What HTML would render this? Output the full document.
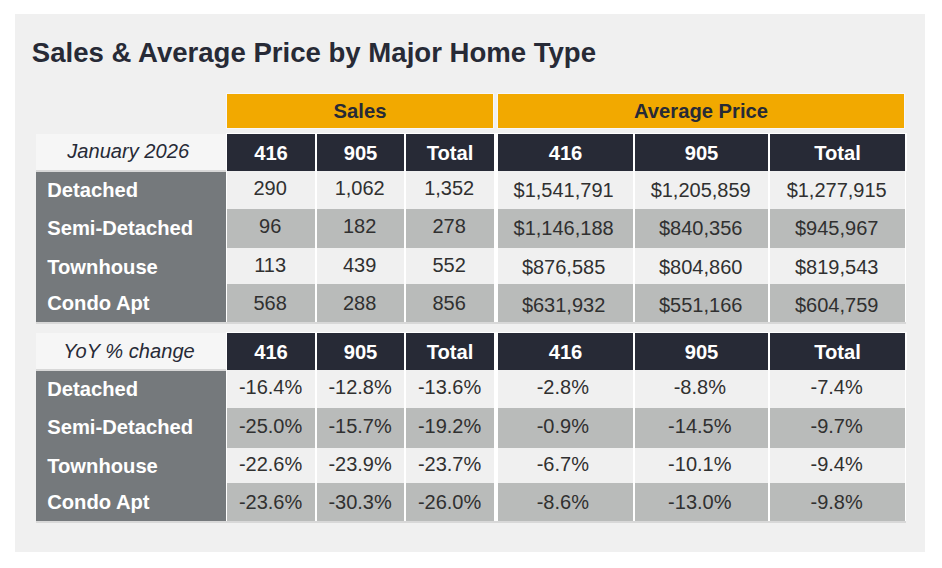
<!DOCTYPE html>
<html><head><meta charset="utf-8"><title>Sales &amp; Average Price by Major Home Type</title>
<style>
html,body{margin:0;padding:0;background:#fff;}
body{width:942px;height:568px;position:relative;overflow:hidden;font-family:"Liberation Sans",Arial,sans-serif;}
.panel{position:absolute;left:15px;top:14px;width:909.8px;height:537.6px;background:#f0f0f0;}
.title{position:absolute;left:31.8px;top:37.2px;font-size:27.57px;font-weight:bold;color:#272a36;white-space:nowrap;line-height:32px;}
.b{position:absolute;}
.t{position:absolute;width:200px;text-align:center;font-size:20px;line-height:24px;white-space:nowrap;}
.bk{background:#ffffff;}
.ln{background:#d8d8d8;}
.or{background:#f2a900;box-shadow:0 0 0 0.8px #f9f9fd;}
.dk{background:#272a36;box-shadow:0 -1px 0 0 #fff, 2px 0 0 0 #fff, 2px -1px 0 0 #fff;}
.hl{background:#f6f6f6;}
.lb{background:#75797c;}
.lgt{background:#f0f0f0;}
.alt{background:#b9bbba;}
.d{color:#303030;}
.hd{color:#fff;font-weight:bold;font-size:20.2px;}
.oh{color:#272a36;font-weight:bold;font-size:20.2px;}
.it{color:#272a36;font-style:italic;font-size:20.1px;}
.lt{color:#fff;font-weight:bold;font-size:20.2px;}
</style></head><body>
<div class="panel"></div>
<div class="title">Sales &amp; Average Price by Major Home Type</div>
<div class="b or" style="left:227px;top:94px;width:266px;height:33.7px"></div>
<div class="b or" style="left:498px;top:94px;width:406px;height:33.7px"></div>
<div class="t oh" style="left:260.00px;top:99.00px">Sales</div>
<div class="t oh" style="left:601.00px;top:99.00px">Average Price</div>
<div class="b bk" style="left:225.6px;top:133px;width:680.5px;height:188.8px"></div>
<div class="b ln" style="left:36px;top:321.8px;width:870px;height:1.8000000000000114px"></div>
<div class="b hl" style="left:36px;top:133.5px;width:189.5px;height:37.5px"></div>
<div class="b ln" style="left:36px;top:170.4px;width:189.5px;height:1.5999999999999943px"></div>
<div class="t it" style="left:28.20px;top:139.00px">January 2026</div>
<div class="b dk" style="left:227px;top:134px;width:88px;height:36.5px"></div>
<div class="t hd" style="left:171.00px;top:141.00px">416</div>
<div class="b dk" style="left:317px;top:134px;width:87px;height:36.5px"></div>
<div class="t hd" style="left:260.50px;top:141.00px">905</div>
<div class="b dk" style="left:406px;top:134px;width:88px;height:36.5px"></div>
<div class="t hd" style="left:350.00px;top:141.00px">Total</div>
<div class="b dk" style="left:498px;top:134px;width:135px;height:36.5px"></div>
<div class="t hd" style="left:465.50px;top:141.00px">416</div>
<div class="b dk" style="left:635px;top:134px;width:133px;height:36.5px"></div>
<div class="t hd" style="left:601.50px;top:141.00px">905</div>
<div class="b dk" style="left:770px;top:134px;width:135px;height:36.5px"></div>
<div class="t hd" style="left:737.50px;top:141.00px">Total</div>
<div class="b lb" style="left:36px;top:172px;width:189.5px;height:37px"></div>
<div class="t lt" style="left:47.20px;top:178.00px;width:auto;text-align:left">Detached</div>
<div class="b lgt" style="left:227px;top:171px;width:88px;height:38px"></div>
<div class="t d" style="left:170.20px;top:176.00px">290</div>
<div class="b lgt" style="left:317px;top:171px;width:87px;height:38px"></div>
<div class="t d" style="left:259.70px;top:176.00px">1,062</div>
<div class="b lgt" style="left:406px;top:171px;width:88px;height:38px"></div>
<div class="t d" style="left:349.20px;top:176.00px">1,352</div>
<div class="b lgt" style="left:498px;top:171px;width:135px;height:38px"></div>
<div class="t d" style="left:463.60px;top:178.00px">$1,541,791</div>
<div class="b lgt" style="left:635px;top:171px;width:133px;height:38px"></div>
<div class="t d" style="left:600.70px;top:178.00px">$1,205,859</div>
<div class="b lgt" style="left:770px;top:171px;width:135px;height:38px"></div>
<div class="t d" style="left:736.70px;top:178.00px">$1,277,915</div>
<div class="b lb" style="left:36px;top:209px;width:189.5px;height:39px"></div>
<div class="t lt" style="left:47.20px;top:216.00px;width:auto;text-align:left">Semi-Detached</div>
<div class="b alt" style="left:227px;top:209px;width:88px;height:39px"></div>
<div class="t d" style="left:170.20px;top:214.00px">96</div>
<div class="b alt" style="left:317px;top:209px;width:87px;height:39px"></div>
<div class="t d" style="left:259.70px;top:214.00px">182</div>
<div class="b alt" style="left:406px;top:209px;width:88px;height:39px"></div>
<div class="t d" style="left:349.20px;top:214.00px">278</div>
<div class="b alt" style="left:498px;top:209px;width:135px;height:39px"></div>
<div class="t d" style="left:463.60px;top:216.00px">$1,146,188</div>
<div class="b alt" style="left:635px;top:209px;width:133px;height:39px"></div>
<div class="t d" style="left:600.70px;top:216.00px">$840,356</div>
<div class="b alt" style="left:770px;top:209px;width:135px;height:39px"></div>
<div class="t d" style="left:736.70px;top:216.00px">$945,967</div>
<div class="b lb" style="left:36px;top:248px;width:189.5px;height:36px"></div>
<div class="t lt" style="left:47.20px;top:255.00px;width:auto;text-align:left">Townhouse</div>
<div class="b lgt" style="left:227px;top:248px;width:88px;height:36px"></div>
<div class="t d" style="left:170.20px;top:253.00px">113</div>
<div class="b lgt" style="left:317px;top:248px;width:87px;height:36px"></div>
<div class="t d" style="left:259.70px;top:253.00px">439</div>
<div class="b lgt" style="left:406px;top:248px;width:88px;height:36px"></div>
<div class="t d" style="left:349.20px;top:253.00px">552</div>
<div class="b lgt" style="left:498px;top:248px;width:135px;height:36px"></div>
<div class="t d" style="left:463.60px;top:254.50px">$876,585</div>
<div class="b lgt" style="left:635px;top:248px;width:133px;height:36px"></div>
<div class="t d" style="left:600.70px;top:254.50px">$804,860</div>
<div class="b lgt" style="left:770px;top:248px;width:135px;height:36px"></div>
<div class="t d" style="left:736.70px;top:254.50px">$819,543</div>
<div class="b lb" style="left:36px;top:284px;width:189.5px;height:37.5px"></div>
<div class="t lt" style="left:47.20px;top:291.00px;width:auto;text-align:left">Condo Apt</div>
<div class="b alt" style="left:227px;top:284px;width:88px;height:37.5px"></div>
<div class="t d" style="left:170.20px;top:291.00px">568</div>
<div class="b alt" style="left:317px;top:284px;width:87px;height:37.5px"></div>
<div class="t d" style="left:259.70px;top:291.00px">288</div>
<div class="b alt" style="left:406px;top:284px;width:88px;height:37.5px"></div>
<div class="t d" style="left:349.20px;top:291.00px">856</div>
<div class="b alt" style="left:498px;top:284px;width:135px;height:37.5px"></div>
<div class="t d" style="left:463.60px;top:293.00px">$631,932</div>
<div class="b alt" style="left:635px;top:284px;width:133px;height:37.5px"></div>
<div class="t d" style="left:600.70px;top:293.00px">$551,166</div>
<div class="b alt" style="left:770px;top:284px;width:135px;height:37.5px"></div>
<div class="t d" style="left:736.70px;top:293.00px">$604,759</div>
<div class="b bk" style="left:225.6px;top:332px;width:680.5px;height:188.79999999999995px"></div>
<div class="b ln" style="left:36px;top:520.8px;width:870px;height:1.8000000000000682px"></div>
<div class="b hl" style="left:36px;top:332.5px;width:189.5px;height:37.5px"></div>
<div class="b ln" style="left:36px;top:369.4px;width:189.5px;height:1.6000000000000227px"></div>
<div class="t it" style="left:29.00px;top:339.00px">YoY % change</div>
<div class="b dk" style="left:227px;top:333px;width:88px;height:36.5px"></div>
<div class="t hd" style="left:171.00px;top:340.00px">416</div>
<div class="b dk" style="left:317px;top:333px;width:87px;height:36.5px"></div>
<div class="t hd" style="left:260.50px;top:340.00px">905</div>
<div class="b dk" style="left:406px;top:333px;width:88px;height:36.5px"></div>
<div class="t hd" style="left:350.00px;top:340.00px">Total</div>
<div class="b dk" style="left:498px;top:333px;width:135px;height:36.5px"></div>
<div class="t hd" style="left:465.50px;top:340.00px">416</div>
<div class="b dk" style="left:635px;top:333px;width:133px;height:36.5px"></div>
<div class="t hd" style="left:601.50px;top:340.00px">905</div>
<div class="b dk" style="left:770px;top:333px;width:135px;height:36.5px"></div>
<div class="t hd" style="left:737.50px;top:340.00px">Total</div>
<div class="b lb" style="left:36px;top:371px;width:189.5px;height:37px"></div>
<div class="t lt" style="left:47.20px;top:377.00px;width:auto;text-align:left">Detached</div>
<div class="b lgt" style="left:227px;top:370px;width:88px;height:38px"></div>
<div class="t d" style="left:170.60px;top:375.00px">-16.4%</div>
<div class="b lgt" style="left:317px;top:370px;width:87px;height:38px"></div>
<div class="t d" style="left:260.10px;top:375.00px">-12.8%</div>
<div class="b lgt" style="left:406px;top:370px;width:88px;height:38px"></div>
<div class="t d" style="left:349.60px;top:375.00px">-13.6%</div>
<div class="b lgt" style="left:498px;top:370px;width:135px;height:38px"></div>
<div class="t d" style="left:462.80px;top:375.00px">-2.8%</div>
<div class="b lgt" style="left:635px;top:370px;width:133px;height:38px"></div>
<div class="t d" style="left:599.80px;top:375.00px">-8.8%</div>
<div class="b lgt" style="left:770px;top:370px;width:135px;height:38px"></div>
<div class="t d" style="left:736.60px;top:375.00px">-7.4%</div>
<div class="b lb" style="left:36px;top:408px;width:189.5px;height:40px"></div>
<div class="t lt" style="left:47.20px;top:415.00px;width:auto;text-align:left">Semi-Detached</div>
<div class="b alt" style="left:227px;top:408px;width:88px;height:40px"></div>
<div class="t d" style="left:170.60px;top:414.00px">-25.0%</div>
<div class="b alt" style="left:317px;top:408px;width:87px;height:40px"></div>
<div class="t d" style="left:260.10px;top:414.00px">-15.7%</div>
<div class="b alt" style="left:406px;top:408px;width:88px;height:40px"></div>
<div class="t d" style="left:349.60px;top:414.00px">-19.2%</div>
<div class="b alt" style="left:498px;top:408px;width:135px;height:40px"></div>
<div class="t d" style="left:462.80px;top:414.00px">-0.9%</div>
<div class="b alt" style="left:635px;top:408px;width:133px;height:40px"></div>
<div class="t d" style="left:599.80px;top:414.00px">-14.5%</div>
<div class="b alt" style="left:770px;top:408px;width:135px;height:40px"></div>
<div class="t d" style="left:736.60px;top:414.00px">-9.7%</div>
<div class="b lb" style="left:36px;top:448px;width:189.5px;height:35px"></div>
<div class="t lt" style="left:47.20px;top:454.00px;width:auto;text-align:left">Townhouse</div>
<div class="b lgt" style="left:227px;top:448px;width:88px;height:35px"></div>
<div class="t d" style="left:170.60px;top:452.00px">-22.6%</div>
<div class="b lgt" style="left:317px;top:448px;width:87px;height:35px"></div>
<div class="t d" style="left:260.10px;top:452.00px">-23.9%</div>
<div class="b lgt" style="left:406px;top:448px;width:88px;height:35px"></div>
<div class="t d" style="left:349.60px;top:452.00px">-23.7%</div>
<div class="b lgt" style="left:498px;top:448px;width:135px;height:35px"></div>
<div class="t d" style="left:462.80px;top:452.00px">-6.7%</div>
<div class="b lgt" style="left:635px;top:448px;width:133px;height:35px"></div>
<div class="t d" style="left:599.80px;top:452.00px">-10.1%</div>
<div class="b lgt" style="left:770px;top:448px;width:135px;height:35px"></div>
<div class="t d" style="left:736.60px;top:452.00px">-9.4%</div>
<div class="b lb" style="left:36px;top:483px;width:189.5px;height:37.5px"></div>
<div class="t lt" style="left:47.20px;top:490.00px;width:auto;text-align:left">Condo Apt</div>
<div class="b alt" style="left:227px;top:483px;width:88px;height:37.5px"></div>
<div class="t d" style="left:170.60px;top:490.00px">-23.6%</div>
<div class="b alt" style="left:317px;top:483px;width:87px;height:37.5px"></div>
<div class="t d" style="left:260.10px;top:490.00px">-30.3%</div>
<div class="b alt" style="left:406px;top:483px;width:88px;height:37.5px"></div>
<div class="t d" style="left:349.60px;top:490.00px">-26.0%</div>
<div class="b alt" style="left:498px;top:483px;width:135px;height:37.5px"></div>
<div class="t d" style="left:462.80px;top:490.00px">-8.6%</div>
<div class="b alt" style="left:635px;top:483px;width:133px;height:37.5px"></div>
<div class="t d" style="left:599.80px;top:490.00px">-13.0%</div>
<div class="b alt" style="left:770px;top:483px;width:135px;height:37.5px"></div>
<div class="t d" style="left:736.60px;top:490.00px">-9.8%</div>
</body></html>
